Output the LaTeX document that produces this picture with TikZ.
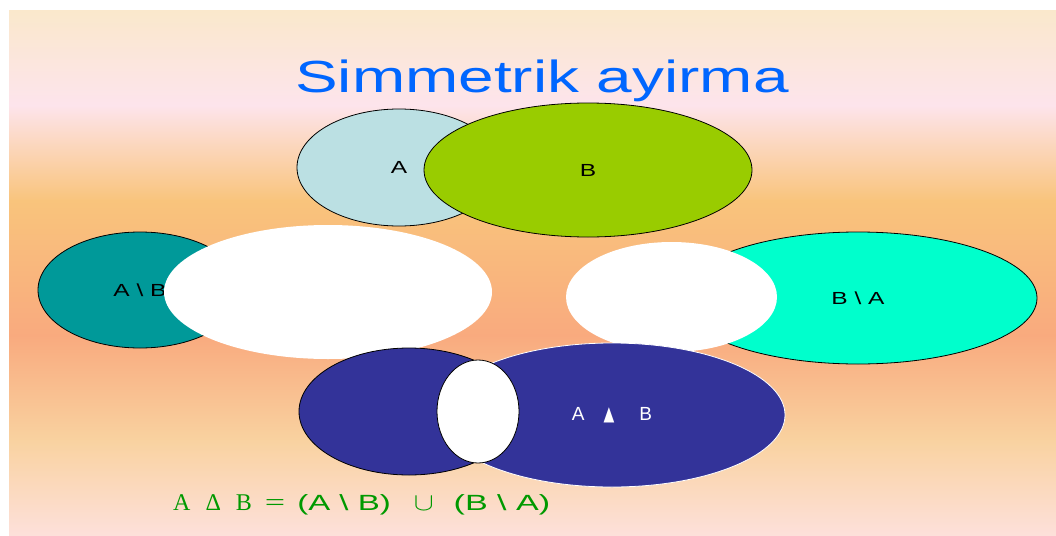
\documentclass[tikz,border=0pt]{standalone}
\usepackage{fontspec}
\setmainfont{Liberation Sans}
\newfontfamily\serifLS{Liberation Serif}
\newfontfamily\dejavu{DejaVu Sans}
\usetikzlibrary{shapes.geometric}
\definecolor{bgone}{RGB}{250,232,204}
\definecolor{bgtwo}{RGB}{253,228,236}
\definecolor{bgthree}{RGB}{249,196,124}
\definecolor{bgfour}{RGB}{249,170,126}
\definecolor{bgfive}{RGB}{249,210,160}
\definecolor{bgsix}{RGB}{253,224,218}
\definecolor{setA}{RGB}{187,224,227}
\definecolor{setB}{RGB}{153,204,0}
\definecolor{teal}{RGB}{0,153,153}
\definecolor{aqua}{RGB}{0,255,204}
\definecolor{navy}{RGB}{51,51,153}
\definecolor{titleblue}{RGB}{0,102,255}
\definecolor{fgreen}{RGB}{0,153,0}
\newcommand\lbl[1]{\scalebox{1.4}[1]{\fontsize{17.5}{20}\selectfont #1}}
\begin{document}
\begin{tikzpicture}[x=1pt,y=-1pt,
  setshape/.style={ellipse, inner sep=0pt, line width=0.8pt},
  hole/.style={setshape, fill=white}]
\useasboundingbox (0,0) rectangle (1056,535);
\fill[white] (0,0) rectangle (1056,535);
% background gradient
\shade[top color=bgone, bottom color=bgtwo] (9,11) rectangle (1056,106);
\shade[top color=bgtwo, bottom color=bgthree] (9,105) rectangle (1056,201);
\shade[top color=bgthree, bottom color=bgfour] (9,200) rectangle (1056,336);
\shade[top color=bgfour, bottom color=bgfive] (9,335) rectangle (1056,441);
\shade[top color=bgfive, bottom color=bgsix] (9,440) rectangle (1056,535);
% title
\node[anchor=base, inner sep=0pt, text=titleblue] (title) at (542,92)
  {\scalebox{1.42}[1]{\fontsize{45}{54}\selectfont Simmetrik ayirma}};
% A and B
\node[setshape, draw=black, fill=setA, minimum width=204, minimum height=117] (A) at (399,167.5) {\lbl{A}};
\node[setshape, draw=black, fill=setB, minimum width=328, minimum height=134] (B) at (588,170) {\lbl{B}};
% A \ B
\node[setshape, draw=black, fill=teal, minimum width=204, minimum height=116] (AmB) at (140,290) {\lbl{A \textbackslash{} B}};
\node[hole, minimum width=328, minimum height=134] (holeL) at (328,292) {};
% B \ A
\node[setshape, draw=black, fill=aqua, minimum width=358, minimum height=132] (BmA) at (858,298) {\lbl{B \textbackslash{} A}};
\node[hole, minimum width=211, minimum height=110] (holeR) at (671.5,297) {};
% symmetric difference
\node[setshape, draw=black, fill=navy, minimum width=220, minimum height=127] (symL) at (409,411.5) {};
\node[setshape, draw=white, fill=navy, minimum width=346, minimum height=144, text=white] (symR) at (612,415)
  {\fontsize{19}{21}\selectfont A\hspace{19pt}\scalebox{0.7}[1]{\dejavu\fontsize{20}{22}\selectfont ▲}\hspace{25pt}B};
\node[hole, draw=black, minimum width=82, minimum height=103] (mid) at (478,411.5) {};
% formula
\node[anchor=base west, inner sep=0pt, text=fgreen] (formula) at (173,510)
  {{\serifLS\fontsize{24}{28}\selectfont A\hspace{15pt}Δ\hspace{15pt}B\hspace{13pt}\scalebox{1.5}[1]{=}}\hspace{12pt}{\fontsize{22}{26}\selectfont\scalebox{1.5}[1]{(A \textbackslash{} B)}\hspace{23pt}{\fontsize{24}{28}\selectfont\scalebox{1.2}[1]{$\cup$}}\hspace{20pt}\scalebox{1.55}[1]{(B \textbackslash{} A)}}};
\end{tikzpicture}
\end{document}
